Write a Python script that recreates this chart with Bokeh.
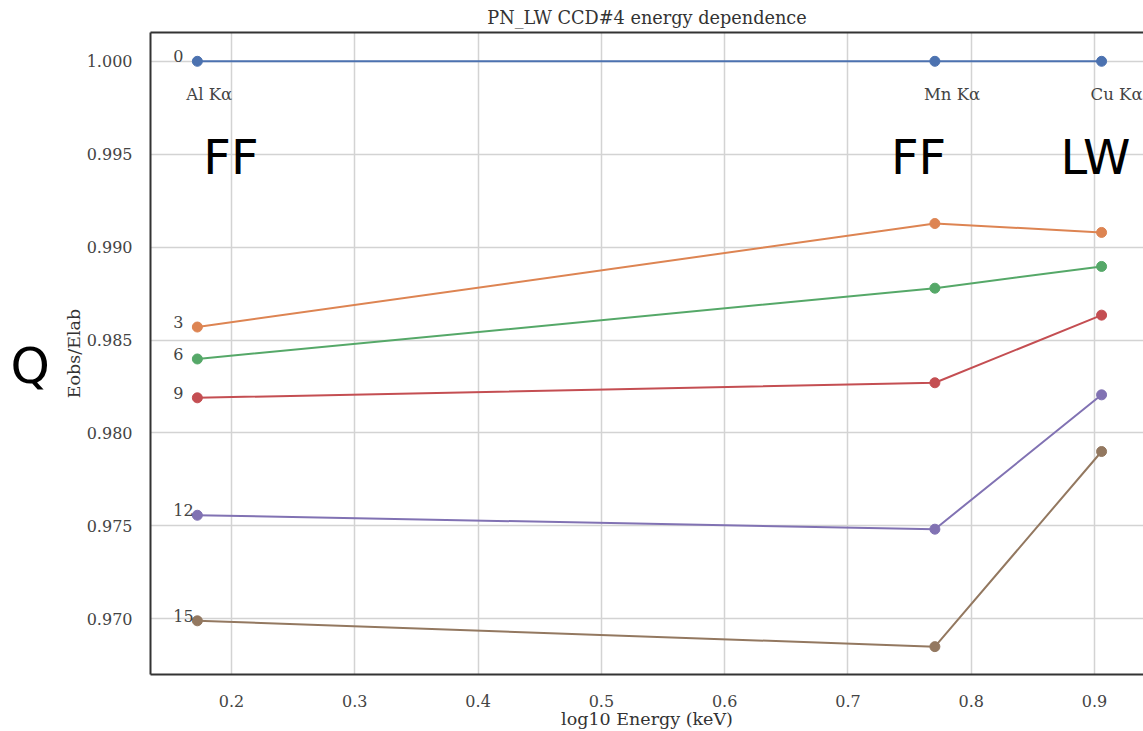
from bokeh.plotting import figure
from bokeh.layouts import row
from bokeh.models import (ColumnDataSource, Label, LinearAxis, FixedTicker, Range1d,
                          NumeralTickFormatter)
from bokeh.core.properties import value
from bokeh.embed import file_html
from bokeh.resources import INLINE

# X-ray calibration lines and their log10 energies (keV)
line_names = ["Al K\u03b1", "Mn K\u03b1", "Cu K\u03b1"]
log_energy = [0.1723, 0.7705, 0.9057]
readout_mode = ["FF", "FF", "LW"]

# Observed / laboratory energy ratio for each Q value
q_labels = ["0", "3", "6", "9", "12", "15"]
ratio_q0 = [1.0000, 1.0000, 1.0000]
ratio_q3 = [0.98570, 0.99127, 0.99079]
ratio_q6 = [0.98398, 0.98779, 0.98896]
ratio_q9 = [0.98189, 0.98270, 0.98634]
ratio_q12 = [0.97557, 0.97482, 0.98205]
ratio_q15 = [0.96989, 0.96850, 0.97900]
ratios = [ratio_q0, ratio_q3, ratio_q6, ratio_q9, ratio_q12, ratio_q15]

palette = ["#4C72B0", "#DD8452", "#55A868", "#C44E52", "#8172B3", "#937860"]

SERIF = "DejaVu Serif"
SANS = "DejaVu Sans"
H = 731
SIDE_W = 60

# narrow panel holding the big "Q" heading left of the axis
side = figure(width=SIDE_W, height=H, title=None,
              x_range=Range1d(0, SIDE_W), y_range=Range1d(0, H),
              output_backend="svg", toolbar_location=None,
              min_border_left=0, min_border_right=0, min_border_top=0, min_border_bottom=0)
side.axis.visible = False
side.grid.visible = False
side.outline_line_color = None
side.text(x=[10], y=[H - 380], text=["Q"], text_font=value(SANS), text_font_size="50px",
          text_color="black", text_align="left", text_baseline="alphabetic")

p = figure(
    width=1143 - SIDE_W, height=H,
    x_range=Range1d(0.1343, 0.9397), y_range=Range1d(0.96700, 1.00155),
    output_backend="svg", toolbar_location=None,
    min_border_left=150 - SIDE_W, min_border_right=0, min_border_top=32, min_border_bottom=54,
    title="PN_LW CCD#4 energy dependence",
)
p.outline_line_color = None
p.background_fill_color = "white"

p.title.text_font = SERIF
p.title.text_font_size = "17.7px"
p.title.text_font_style = "normal"
p.title.text_color = "#333333"
p.title.align = "center"

for ax in (p.xaxis[0], p.yaxis[0]):
    ax.axis_line_color = "#333333"
    ax.axis_line_width = 2
    ax.major_tick_line_color = None
    ax.minor_tick_line_color = None
    ax.major_label_text_font = SERIF
    ax.major_label_text_font_size = "16px"
    ax.major_label_text_color = "#444444"
    ax.axis_label_text_font = SERIF
    ax.axis_label_text_font_size = "17.5px"
    ax.axis_label_text_font_style = "normal"
    ax.axis_label_text_color = "#333333"

p.xaxis.ticker = FixedTicker(ticks=[0.2, 0.3, 0.4, 0.5, 0.6, 0.7, 0.8, 0.9])
p.yaxis.ticker = FixedTicker(ticks=[0.970, 0.975, 0.980, 0.985, 0.990, 0.995, 1.000])
p.yaxis.formatter = NumeralTickFormatter(format="0.000")
p.xaxis.formatter = NumeralTickFormatter(format="0.0")
p.xaxis.axis_label = "log10 Energy (keV)"
p.yaxis.axis_label = "Eobs/Elab"
p.xaxis.major_label_standoff = 14
p.yaxis.major_label_standoff = 12
p.xaxis.axis_label_standoff = -1
p.yaxis.axis_label_standoff = 0

# top border line
top = LinearAxis(ticker=FixedTicker(ticks=[]), axis_line_color="#333333", axis_line_width=2,
                 major_tick_line_color=None, minor_tick_line_color=None,
                 major_label_text_font_size="0px")
p.add_layout(top, "above")

p.grid.grid_line_color = "#d3d3d3"
p.grid.grid_line_width = 1.5

for q, vals, col in zip(q_labels, ratios, palette):
    src = ColumnDataSource(dict(x=log_energy, y=vals))
    p.line("x", "y", source=src, line_color=col, line_width=2)
    p.scatter("x", "y", source=src, size=10, fill_color=col, line_color=col)

# Q value next to the first point of each series
first = ColumnDataSource(dict(x=[log_energy[0]] * len(q_labels),
                              y=[r[0] for r in ratios], t=q_labels))
p.text("x", "y", text="t", source=first, x_offset=-24, y_offset=1,
       text_font=value(SERIF), text_font_size="16px", text_color="#444444",
       text_align="left", text_baseline="bottom")

# line names under the top series
names = ColumnDataSource(dict(x=log_energy, y=ratio_q0, t=line_names))
p.text("x", "y", text="t", source=names, x_offset=-11, y_offset=24,
       text_font=value(SERIF), text_font_size="16.5px", text_color="#444444",
       text_align="left", text_baseline="top")

# readout mode tags
mode_dx = [6, -44, -41]
for xv, m, dx in zip(log_energy, readout_mode, mode_dx):
    p.add_layout(Label(x=xv, y=1.0, x_offset=dx, y_offset=-96, text=m,
                       text_font=SANS, text_font_size="48px", text_color="black",
                       text_align="left", text_baseline="alphabetic"))

layout = row(side, p)
open("out.html", "w").write(file_html(layout, INLINE))
